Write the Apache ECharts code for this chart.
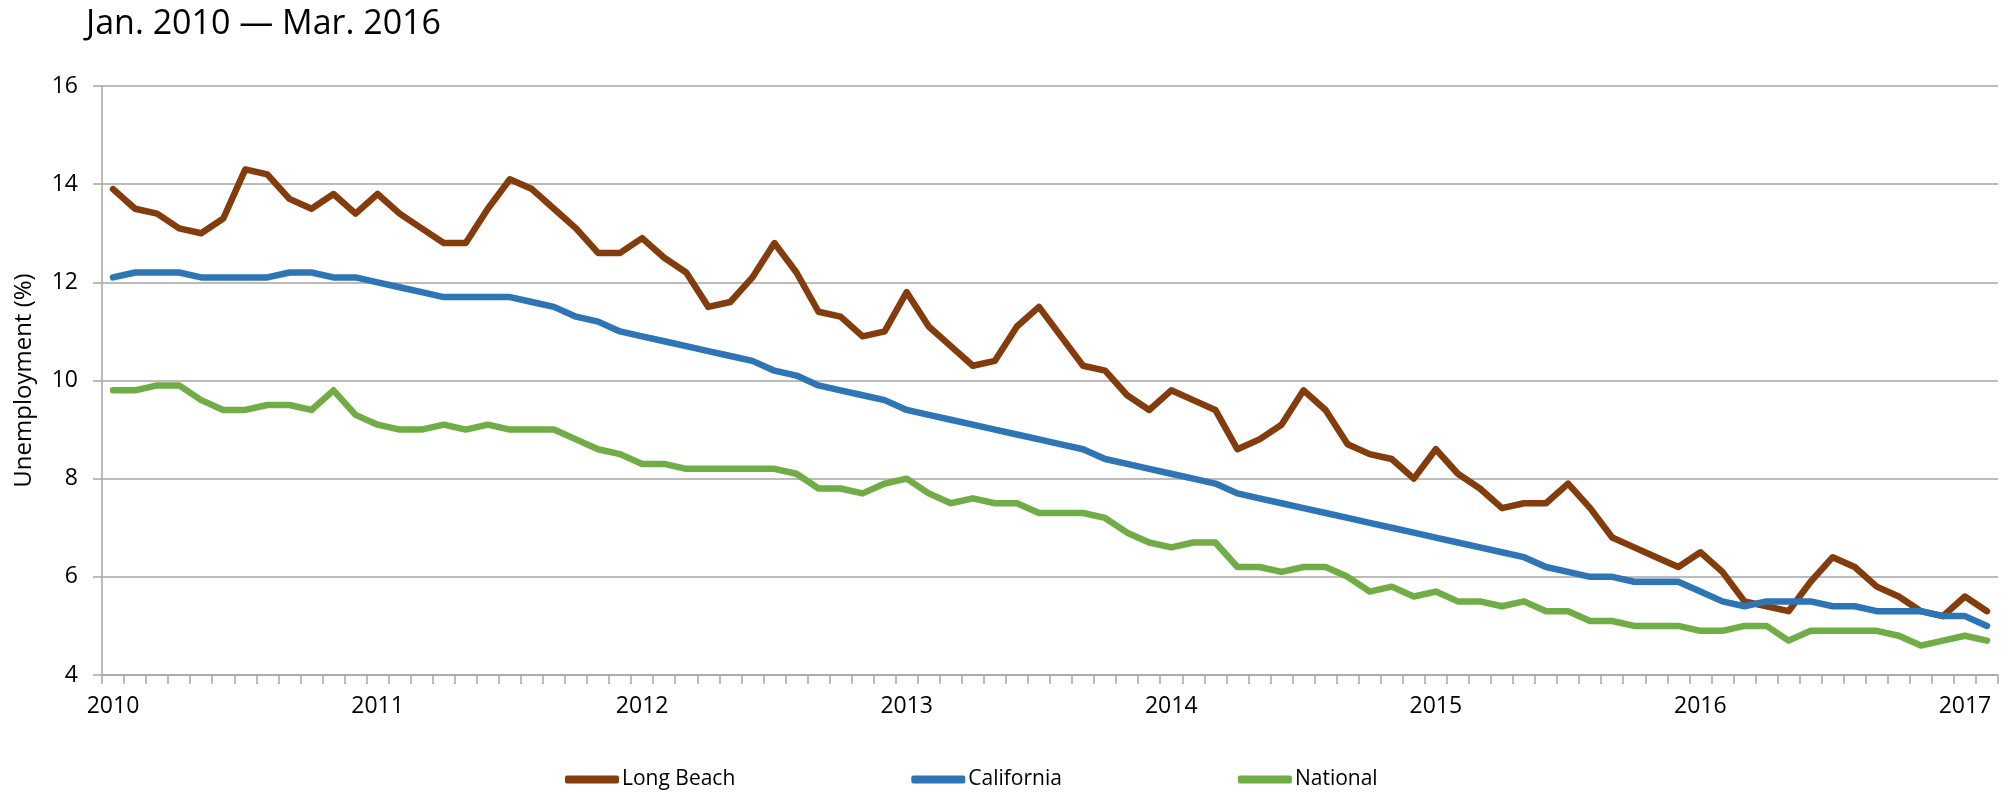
<!DOCTYPE html>
<html>
<head>
<meta charset="utf-8">
<title>Unemployment Jan. 2010 - Mar. 2016</title>
<script src="https://cdn.jsdelivr.net/npm/echarts@6/dist/echarts.min.js"></script>
<style>
  html, body { margin: 0; padding: 0; background: #fff; }
  #chart_1 { width: 2013px; height: 796px; }
</style>
</head>
<body>
<div id="chart_1"></div>
<script>
// data - monthly rate, Jan 2010 .. Feb 2017
var years = ['2010', '2011', '2012', '2013', '2014', '2015', '2016', '2017'];
var monthNames = ['Jan', 'Feb', 'Mar', 'Apr', 'May', 'Jun', 'Jul', 'Aug', 'Sep', 'Oct', 'Nov', 'Dec'];
var seriesNames = ['Long Beach', 'California', 'National'];

var longBeach = [13.9, 13.5, 13.4, 13.1, 13.0, 13.3, 14.3, 14.2, 13.7, 13.5, 13.8, 13.4,
  13.8, 13.4, 13.1, 12.8, 12.8, 13.5, 14.1, 13.9, 13.5, 13.1, 12.6, 12.6,
  12.9, 12.5, 12.2, 11.5, 11.6, 12.1, 12.8, 12.2, 11.4, 11.3, 10.9, 11.0,
  11.8, 11.1, 10.7, 10.3, 10.4, 11.1, 11.5, 10.9, 10.3, 10.2, 9.7, 9.4,
  9.8, 9.6, 9.4, 8.6, 8.8, 9.1, 9.8, 9.4, 8.7, 8.5, 8.4, 8.0,
  8.6, 8.1, 7.8, 7.4, 7.5, 7.5, 7.9, 7.4, 6.8, 6.6, 6.4, 6.2,
  6.5, 6.1, 5.5, 5.4, 5.3, 5.9, 6.4, 6.2, 5.8, 5.6, 5.3, 5.2,
  5.6, 5.3];

var california = [12.1, 12.2, 12.2, 12.2, 12.1, 12.1, 12.1, 12.1, 12.2, 12.2, 12.1, 12.1,
  12.0, 11.9, 11.8, 11.7, 11.7, 11.7, 11.7, 11.6, 11.5, 11.3, 11.2, 11.0,
  10.9, 10.8, 10.7, 10.6, 10.5, 10.4, 10.2, 10.1, 9.9, 9.8, 9.7, 9.6,
  9.4, 9.3, 9.2, 9.1, 9.0, 8.9, 8.8, 8.7, 8.6, 8.4, 8.3, 8.2,
  8.1, 8.0, 7.9, 7.7, 7.6, 7.5, 7.4, 7.3, 7.2, 7.1, 7.0, 6.9,
  6.8, 6.7, 6.6, 6.5, 6.4, 6.2, 6.1, 6.0, 6.0, 5.9, 5.9, 5.9,
  5.7, 5.5, 5.4, 5.5, 5.5, 5.5, 5.4, 5.4, 5.3, 5.3, 5.3, 5.2,
  5.2, 5.0];

var national = [9.8, 9.8, 9.9, 9.9, 9.6, 9.4, 9.4, 9.5, 9.5, 9.4, 9.8, 9.3,
  9.1, 9.0, 9.0, 9.1, 9.0, 9.1, 9.0, 9.0, 9.0, 8.8, 8.6, 8.5,
  8.3, 8.3, 8.2, 8.2, 8.2, 8.2, 8.2, 8.1, 7.8, 7.8, 7.7, 7.9,
  8.0, 7.7, 7.5, 7.6, 7.5, 7.5, 7.3, 7.3, 7.3, 7.2, 6.9, 6.7,
  6.6, 6.7, 6.7, 6.2, 6.2, 6.1, 6.2, 6.2, 6.0, 5.7, 5.8, 5.6,
  5.7, 5.5, 5.5, 5.4, 5.5, 5.3, 5.3, 5.1, 5.1, 5.0, 5.0, 5.0,
  4.9, 4.9, 5.0, 5.0, 4.7, 4.9, 4.9, 4.9, 4.9, 4.8, 4.6, 4.7,
  4.8, 4.7];

var yTicks = { min: 4, max: 16, step: 2 };

// one category per month, "Jan 2010" ...
var categories = [];
for (var i = 0; i < longBeach.length; i++) {
  categories.push(monthNames[i % 12] + ' ' + years[Math.floor(i / 12)]);
}

var font = "'Open Sans', sans-serif";
var gray = '#a6a6a6';

var chart = echarts.init(document.getElementById('chart_1'));

var option = {
  animation: false,
  textStyle: { fontFamily: font },
  title: {
    text: 'Jan. 2010 \u2014 Mar. 2016',
    left: 86,
    top: 7,
    padding: 0,
    textStyle: { fontFamily: font, fontSize: 34, fontWeight: 'normal', color: '#000' }
  },
  color: ['#843C0C', '#2E75B6', '#70AD47'],
  legend: {
    data: seriesNames,
    left: 560,
    top: 764,
    itemGap: 176,
    itemWidth: 54,
    itemHeight: 8,
    icon: 'roundRect',
    textStyle: { fontFamily: font, fontSize: 21, color: '#000', padding: [0, 0, 0, -2] }
  },
  grid: {
    left: 102,
    right: 15,
    top: 86,
    bottom: 121,
    containLabel: false
  },
  xAxis: {
    type: 'category',
    data: categories,
    boundaryGap: true,
    axisLine: { lineStyle: { color: gray, width: 1.5 } },
    axisTick: { show: true, interval: 0, length: 9, lineStyle: { color: gray, width: 1.5 } },
    axisLabel: {
      interval: function (idx) { return idx % 12 === 0; },
      formatter: function (val) { return val.split(' ')[1]; },
      margin: 20,
      fontFamily: font,
      fontSize: 23,
      color: '#000'
    },
    splitLine: { show: false }
  },
  yAxis: {
    type: 'value',
    min: yTicks.min,
    max: yTicks.max,
    interval: yTicks.step,
    name: 'Unemployment (%)',
    nameLocation: 'middle',
    nameGap: 66,
    nameRotate: 90,
    nameTextStyle: { fontFamily: font, fontSize: 24, color: '#000' },
    axisLine: { show: true, lineStyle: { color: gray, width: 1.5 } },
    axisTick: { show: true, length: 9, lineStyle: { color: gray, width: 1.5 } },
    axisLabel: { margin: 24, fontFamily: font, fontSize: 23, color: '#000' },
    splitLine: { show: true, lineStyle: { color: gray, width: 1.5 } }
  },
  series: [
    { name: seriesNames[0], data: longBeach },
    { name: seriesNames[1], data: california },
    { name: seriesNames[2], data: national }
  ].map(function (s) {
    return {
      name: s.name,
      type: 'line',
      data: s.data,
      symbol: 'none',
      smooth: false,
      lineStyle: { width: 6.5, cap: 'round', join: 'round' }
    };
  })
};

chart.setOption(option);
</script>
</body>
</html>
